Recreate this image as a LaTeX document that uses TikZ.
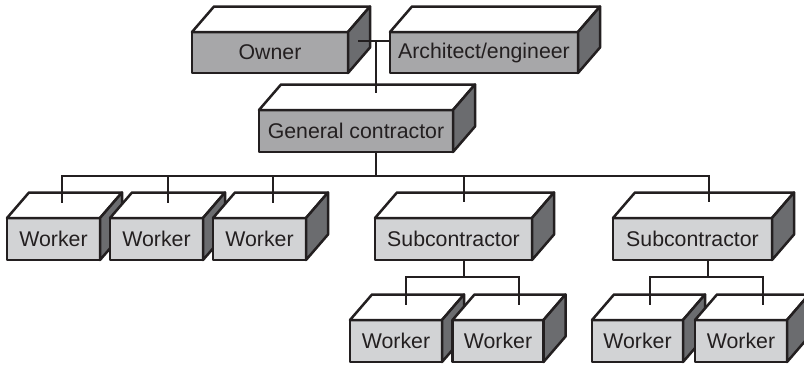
\documentclass[tikz,border=0pt]{standalone}
\usepackage{fontspec}
\setmainfont{Liberation Sans}
\usetikzlibrary{calc}
\definecolor{frontdark}{HTML}{A7A7A9}
\definecolor{frontlight}{HTML}{D2D3D5}
\definecolor{sideface}{HTML}{6B6C6F}
\definecolor{ink}{HTML}{231F20}
\newcommand{\dpx}{22}
\newcommand{\dpy}{25.5}
% name, cx, cy, width, height, fill colour, text
\newcommand{\cubebox}[7]{%
  \node[frontface, fill=#6, minimum width=#4pt, minimum height=#5pt] (#1) at (#2,#3) {#7};
  \filldraw[outline, fill=white] (#1.north west) -- ++(\dpx,-\dpy) -- ($(#1.north east)+(\dpx,-\dpy)$) -- (#1.north east) -- cycle;
  \filldraw[outline, fill=sideface] (#1.north east) -- ($(#1.north east)+(\dpx,-\dpy)$) -- ($(#1.south east)+(\dpx,-\dpy)$) -- (#1.south east) -- cycle;
}
\tikzset{
  outline/.style={draw=ink, line width=2.5pt, line join=round},
  frontface/.style={outline, inner sep=0pt, outer sep=0pt, text=ink,
    font=\fontsize{21.3}{25}\selectfont},
  link/.style={draw=ink, line width=2.1pt}
}
\begin{document}
\begin{tikzpicture}[x=1pt,y=-1pt]
\useasboundingbox (0,0) rectangle (804,365);
% boxes
\cubebox{owner}{270}{52.5}{156}{41}{frontdark}{Owner}
\cubebox{arch}{484}{52.5}{188}{41}{frontdark}{Architect/engineer}
\cubebox{gc}{356}{131}{194}{42}{frontdark}{General contractor}
\cubebox{w1}{53.5}{239}{93}{42}{frontlight}{Worker}
\cubebox{w2}{156.5}{239}{93}{42}{frontlight}{Worker}
\cubebox{w3}{259.5}{239}{93}{42}{frontlight}{Worker}
\cubebox{s1}{453.5}{239}{157}{42}{frontlight}{Subcontractor}
\cubebox{s2}{692.5}{239}{159}{42}{frontlight}{Subcontractor}
\cubebox{wa}{396}{341}{92}{42}{frontlight}{Worker}
\cubebox{wb}{498}{341}{91}{42}{frontlight}{Worker}
\cubebox{wc}{637.5}{341}{91}{42}{frontlight}{Worker}
\cubebox{wd}{741}{341}{92}{42}{frontlight}{Worker}
% junction coordinates
\coordinate (ownr) at (358,41);
\coordinate (oa) at (376,41);
\coordinate (gct) at (376,93);
\coordinate (gcb) at (376,176);
\coordinate (w1t) at (62,203);
\coordinate (w2t) at (168,203);
\coordinate (w3t) at (273,203);
\coordinate (s1t) at (464,202);
\coordinate (s2t) at (709,202);
\coordinate (s1j) at (464,277);
\coordinate (s2j) at (708,277);
\coordinate (wat) at (406,305);
\coordinate (wbt) at (519,305);
\coordinate (wct) at (650,305);
\coordinate (wdt) at (763,305);
% connectors
\draw[link] (ownr) -- (arch.west |- ownr);
\draw[link] (oa) -- (gct);
\draw[link] (gc.south -| gcb) -- (gcb);
\draw[link] (gcb) -| (w1t);
\draw[link] (gcb) -| (w2t);
\draw[link] (gcb) -| (w3t);
\draw[link] (gcb) -| (s1t);
\draw[link] (gcb) -| (s2t);
\draw[link] (s1.south -| s1j) -- (s1j);
\draw[link] (s1j) -| (wat);
\draw[link] (s1j) -| (wbt);
\draw[link] (s2.south -| s2j) -- (s2j);
\draw[link] (s2j) -| (wct);
\draw[link] (s2j) -| (wdt);
\end{tikzpicture}
\end{document}
